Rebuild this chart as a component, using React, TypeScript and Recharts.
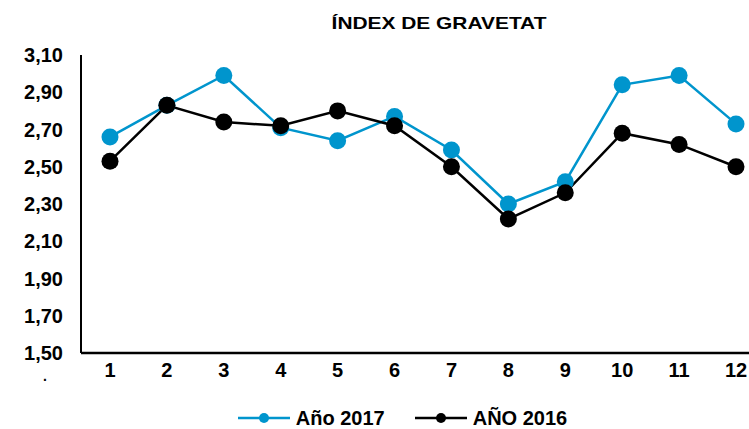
import { LineChart, Line, XAxis, YAxis, Legend } from "recharts";

const months = ["1", "2", "3", "4", "5", "6", "7", "8", "9", "10", "11", "12"];
const serie2017 = [2.66, 2.83, 2.99, 2.71, 2.64, 2.77, 2.59, 2.3, 2.42, 2.94, 2.99, 2.73];
const serie2016 = [2.53, 2.83, 2.74, 2.72, 2.8, 2.72, 2.5, 2.22, 2.36, 2.68, 2.62, 2.5];
const yTicks = [1.5, 1.7, 1.9, 2.1, 2.3, 2.5, 2.7, 2.9, 3.1];

const BLUE = "#0095cd";
const BLACK = "#000000";
const FONT = "'Liberation Sans', Arial, sans-serif";

const data = months.map((m, i) => ({
    m,
    a2017: serie2017[i],
    a2016: serie2016[i],
}));

const LegendIcon = ({ color }: { color: string }) => (
    <svg width={52} height={12} style={{ display: "block" }}>
        <line x1={0} y1={6} x2={52} y2={6} stroke={color} strokeWidth={2.5} />
        <circle cx={26} cy={6} r={5} fill={color} />
    </svg>
);

const renderLegend = () => (
    <div
        style={{
            height: 40,
            boxSizing: "border-box",
            paddingTop: 18,
            paddingLeft: 56,
            display: "flex",
            justifyContent: "center",
            alignItems: "center",
            fontFamily: FONT,
            fontSize: 20,
            fontWeight: "bold",
            color: "#000",
        }}
    >
        <div style={{ display: "flex", alignItems: "center", height: 20 }}>
            <LegendIcon color={BLUE} />
            <span style={{ marginLeft: 6, lineHeight: "20px" }}>Año 2017</span>
        </div>
        <div style={{ display: "flex", alignItems: "center", height: 20, marginLeft: 30 }}>
            <LegendIcon color={BLACK} />
            <span style={{ marginLeft: 6, lineHeight: "20px" }}>AÑO 2016</span>
        </div>
    </div>
);

export default function App() {
    return (
        <div style={{ position: "fixed", left: 0, top: 0, width: 749, height: 429, background: "#fff" }}>
            <LineChart
                width={749}
                height={429}
                data={data}
                margin={{ top: 55, right: 0, left: 0, bottom: 0 }}
            >
                <XAxis
                    dataKey="m"
                    padding={{ left: 29, right: 13 }}
                    axisLine={{ stroke: "#000", strokeWidth: 2.5 }}
                    tickLine={false}
                    tickMargin={4}
                    height={36}
                    tick={{ fill: "#000", fontSize: 20, fontWeight: "bold", fontFamily: FONT }}
                />
                <YAxis
                    domain={[1.5, 3.1]}
                    ticks={yTicks}
                    width={81}
                    axisLine={{ stroke: "#000", strokeWidth: 2 }}
                    tickLine={false}
                    tickMargin={12}
                    tickFormatter={(v: number) => v.toFixed(2).replace(".", ",")}
                    tick={{ fill: "#000", fontSize: 20, fontWeight: "bold", fontFamily: FONT }}
                />
                <Legend
                    verticalAlign="bottom"
                    height={40}
                    content={renderLegend}
                    wrapperStyle={{ height: 40 }}
                />
                <Line
                    dataKey="a2017"
                    name="Año 2017"
                    stroke={BLUE}
                    strokeWidth={2.5}
                    dot={{ r: 8.5, fill: BLUE, stroke: BLUE, strokeWidth: 0 }}
                    isAnimationActive={false}
                />
                <Line
                    dataKey="a2016"
                    name="AÑO 2016"
                    stroke={BLACK}
                    strokeWidth={2.5}
                    dot={{ r: 8.5, fill: BLACK, stroke: BLACK, strokeWidth: 0 }}
                    isAnimationActive={false}
                />
            </LineChart>
            <svg
                width={749}
                height={429}
                style={{ position: "absolute", left: 0, top: 0, pointerEvents: "none" }}
            >
                <text
                    x={0}
                    y={0}
                    textAnchor="middle"
                    fontFamily={FONT}
                    fontSize={17}
                    fontWeight="bold"
                    fill="#000"
                    transform="translate(439 29) scale(1.23 1)"
                >
                    ÍNDEX DE GRAVETAT
                </text>
                <text x={45} y={381} textAnchor="middle" fontFamily={FONT} fontSize={14} fontWeight="bold" fill="#000">
                    .
                </text>
            </svg>
        </div>
    );
}
